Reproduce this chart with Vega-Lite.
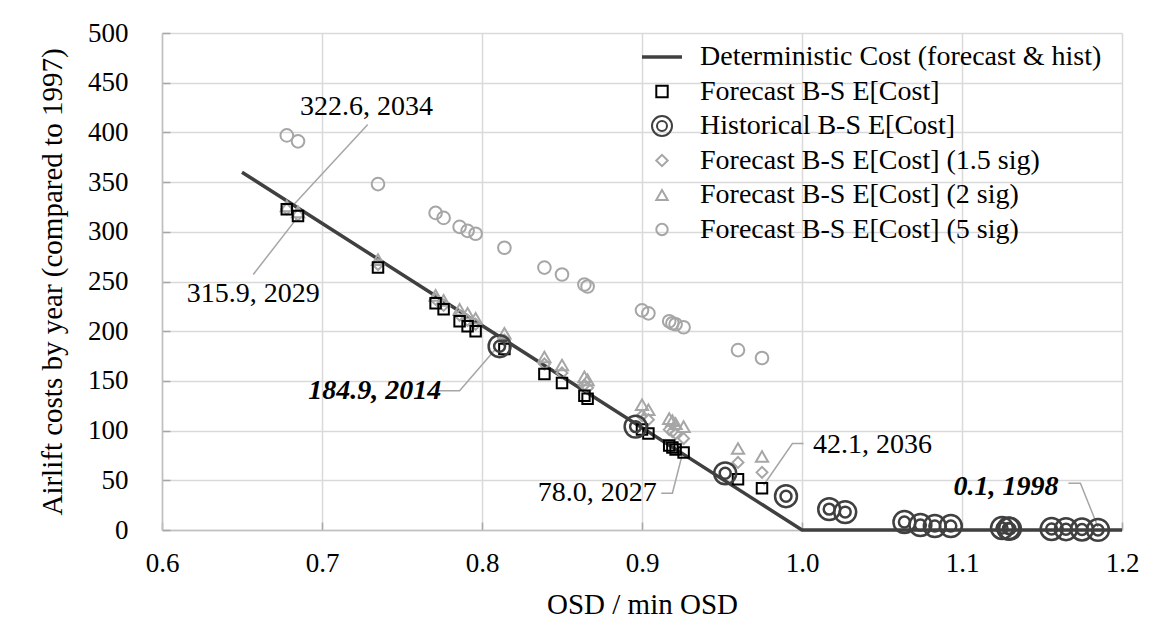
{
  "$schema": "https://vega.github.io/schema/vega-lite/v6.json",
  "width": 960,
  "height": 497,
  "autosize": {"type": "none"},
  "padding": {"left": 162, "top": 33, "right": 31, "bottom": 109},
  "background": "white",
  "config": {
    "font": "Liberation Serif, Times New Roman, DejaVu Serif, serif",
    "view": {"stroke": null},
    "axis": {
      "labelFont": "Liberation Serif, Times New Roman, DejaVu Serif, serif",
      "titleFont": "Liberation Serif, Times New Roman, DejaVu Serif, serif",
      "labelFontSize": 27,
      "titleFontSize": 29,
      "labelColor": "black",
      "titleColor": "black",
      "titleFontWeight": "normal",
      "gridColor": "#d9d9d9",
      "gridWidth": 1.5,
      "domainColor": "#bfbfbf",
      "domainWidth": 1.5,
      "ticks": true,
      "tickSize": -8,
      "tickColor": "#a6a6a6",
      "tickWidth": 1.5
    }
  },
  "datasets": {
    "det": [
      {"series": "Deterministic Cost (forecast & hist)", "x": 0.65, "y": 360},
      {"series": "Deterministic Cost (forecast & hist)", "x": 1.0, "y": 0},
      {"series": "Deterministic Cost (forecast & hist)", "x": 1.2, "y": 0}
    ],
    "pts": [
      {"series": "Forecast B-S E[Cost] (5 sig)", "x": 0.678, "y": 397},
      {"series": "Forecast B-S E[Cost] (5 sig)", "x": 0.685, "y": 391},
      {"series": "Forecast B-S E[Cost] (5 sig)", "x": 0.735, "y": 348},
      {"series": "Forecast B-S E[Cost] (5 sig)", "x": 0.771, "y": 319},
      {"series": "Forecast B-S E[Cost] (5 sig)", "x": 0.776, "y": 314},
      {"series": "Forecast B-S E[Cost] (5 sig)", "x": 0.786, "y": 305},
      {"series": "Forecast B-S E[Cost] (5 sig)", "x": 0.791, "y": 301},
      {"series": "Forecast B-S E[Cost] (5 sig)", "x": 0.796, "y": 298},
      {"series": "Forecast B-S E[Cost] (5 sig)", "x": 0.814, "y": 284},
      {"series": "Forecast B-S E[Cost] (5 sig)", "x": 0.839, "y": 264},
      {"series": "Forecast B-S E[Cost] (5 sig)", "x": 0.85, "y": 257},
      {"series": "Forecast B-S E[Cost] (5 sig)", "x": 0.864, "y": 247},
      {"series": "Forecast B-S E[Cost] (5 sig)", "x": 0.866, "y": 245},
      {"series": "Forecast B-S E[Cost] (5 sig)", "x": 0.9, "y": 221},
      {"series": "Forecast B-S E[Cost] (5 sig)", "x": 0.904, "y": 218},
      {"series": "Forecast B-S E[Cost] (5 sig)", "x": 0.917, "y": 210},
      {"series": "Forecast B-S E[Cost] (5 sig)", "x": 0.919, "y": 208},
      {"series": "Forecast B-S E[Cost] (5 sig)", "x": 0.921, "y": 207},
      {"series": "Forecast B-S E[Cost] (5 sig)", "x": 0.926, "y": 204},
      {"series": "Forecast B-S E[Cost] (5 sig)", "x": 0.96, "y": 181},
      {"series": "Forecast B-S E[Cost] (5 sig)", "x": 0.975, "y": 173},
      {"series": "Forecast B-S E[Cost] (2 sig)", "x": 0.678, "y": 326},
      {"series": "Forecast B-S E[Cost] (2 sig)", "x": 0.685, "y": 320},
      {"series": "Forecast B-S E[Cost] (2 sig)", "x": 0.735, "y": 272},
      {"series": "Forecast B-S E[Cost] (2 sig)", "x": 0.771, "y": 236},
      {"series": "Forecast B-S E[Cost] (2 sig)", "x": 0.776, "y": 231},
      {"series": "Forecast B-S E[Cost] (2 sig)", "x": 0.786, "y": 222},
      {"series": "Forecast B-S E[Cost] (2 sig)", "x": 0.791, "y": 218},
      {"series": "Forecast B-S E[Cost] (2 sig)", "x": 0.796, "y": 213},
      {"series": "Forecast B-S E[Cost] (2 sig)", "x": 0.814, "y": 198},
      {"series": "Forecast B-S E[Cost] (2 sig)", "x": 0.839, "y": 174},
      {"series": "Forecast B-S E[Cost] (2 sig)", "x": 0.85, "y": 166},
      {"series": "Forecast B-S E[Cost] (2 sig)", "x": 0.864, "y": 154},
      {"series": "Forecast B-S E[Cost] (2 sig)", "x": 0.866, "y": 151},
      {"series": "Forecast B-S E[Cost] (2 sig)", "x": 0.9, "y": 126},
      {"series": "Forecast B-S E[Cost] (2 sig)", "x": 0.904, "y": 121},
      {"series": "Forecast B-S E[Cost] (2 sig)", "x": 0.917, "y": 112},
      {"series": "Forecast B-S E[Cost] (2 sig)", "x": 0.919, "y": 110},
      {"series": "Forecast B-S E[Cost] (2 sig)", "x": 0.921, "y": 107},
      {"series": "Forecast B-S E[Cost] (2 sig)", "x": 0.926, "y": 104},
      {"series": "Forecast B-S E[Cost] (2 sig)", "x": 0.96, "y": 82},
      {"series": "Forecast B-S E[Cost] (2 sig)", "x": 0.975, "y": 74},
      {"series": "Forecast B-S E[Cost] (1.5 sig)", "x": 0.678, "y": 323},
      {"series": "Forecast B-S E[Cost] (1.5 sig)", "x": 0.685, "y": 317},
      {"series": "Forecast B-S E[Cost] (1.5 sig)", "x": 0.735, "y": 267},
      {"series": "Forecast B-S E[Cost] (1.5 sig)", "x": 0.771, "y": 232},
      {"series": "Forecast B-S E[Cost] (1.5 sig)", "x": 0.776, "y": 226},
      {"series": "Forecast B-S E[Cost] (1.5 sig)", "x": 0.786, "y": 216},
      {"series": "Forecast B-S E[Cost] (1.5 sig)", "x": 0.791, "y": 211},
      {"series": "Forecast B-S E[Cost] (1.5 sig)", "x": 0.796, "y": 207},
      {"series": "Forecast B-S E[Cost] (1.5 sig)", "x": 0.814, "y": 191},
      {"series": "Forecast B-S E[Cost] (1.5 sig)", "x": 0.839, "y": 167},
      {"series": "Forecast B-S E[Cost] (1.5 sig)", "x": 0.85, "y": 158},
      {"series": "Forecast B-S E[Cost] (1.5 sig)", "x": 0.864, "y": 146},
      {"series": "Forecast B-S E[Cost] (1.5 sig)", "x": 0.866, "y": 143},
      {"series": "Forecast B-S E[Cost] (1.5 sig)", "x": 0.9, "y": 115},
      {"series": "Forecast B-S E[Cost] (1.5 sig)", "x": 0.904, "y": 111},
      {"series": "Forecast B-S E[Cost] (1.5 sig)", "x": 0.917, "y": 101},
      {"series": "Forecast B-S E[Cost] (1.5 sig)", "x": 0.919, "y": 99},
      {"series": "Forecast B-S E[Cost] (1.5 sig)", "x": 0.921, "y": 97},
      {"series": "Forecast B-S E[Cost] (1.5 sig)", "x": 0.926, "y": 92},
      {"series": "Forecast B-S E[Cost] (1.5 sig)", "x": 0.96, "y": 68},
      {"series": "Forecast B-S E[Cost] (1.5 sig)", "x": 0.975, "y": 58},
      {"series": "Forecast B-S E[Cost]", "x": 0.678, "y": 322.6},
      {"series": "Forecast B-S E[Cost]", "x": 0.685, "y": 315.9},
      {"series": "Forecast B-S E[Cost]", "x": 0.735, "y": 264},
      {"series": "Forecast B-S E[Cost]", "x": 0.771, "y": 228},
      {"series": "Forecast B-S E[Cost]", "x": 0.776, "y": 222},
      {"series": "Forecast B-S E[Cost]", "x": 0.786, "y": 210},
      {"series": "Forecast B-S E[Cost]", "x": 0.791, "y": 205},
      {"series": "Forecast B-S E[Cost]", "x": 0.796, "y": 200},
      {"series": "Forecast B-S E[Cost]", "x": 0.814, "y": 182},
      {"series": "Forecast B-S E[Cost]", "x": 0.839, "y": 157},
      {"series": "Forecast B-S E[Cost]", "x": 0.85, "y": 148},
      {"series": "Forecast B-S E[Cost]", "x": 0.864, "y": 135},
      {"series": "Forecast B-S E[Cost]", "x": 0.866, "y": 132},
      {"series": "Forecast B-S E[Cost]", "x": 0.9, "y": 101},
      {"series": "Forecast B-S E[Cost]", "x": 0.904, "y": 97},
      {"series": "Forecast B-S E[Cost]", "x": 0.917, "y": 85},
      {"series": "Forecast B-S E[Cost]", "x": 0.919, "y": 83},
      {"series": "Forecast B-S E[Cost]", "x": 0.921, "y": 81},
      {"series": "Forecast B-S E[Cost]", "x": 0.926, "y": 78.0},
      {"series": "Forecast B-S E[Cost]", "x": 0.96, "y": 51},
      {"series": "Forecast B-S E[Cost]", "x": 0.975, "y": 42.1},
      {"series": "Historical B-S E[Cost]", "x": 0.811, "y": 184.9},
      {"series": "Historical B-S E[Cost]", "x": 0.896, "y": 104},
      {"series": "Historical B-S E[Cost]", "x": 0.952, "y": 57},
      {"series": "Historical B-S E[Cost]", "x": 0.99, "y": 34},
      {"series": "Historical B-S E[Cost]", "x": 1.017, "y": 21},
      {"series": "Historical B-S E[Cost]", "x": 1.027, "y": 18},
      {"series": "Historical B-S E[Cost]", "x": 1.064, "y": 8},
      {"series": "Historical B-S E[Cost]", "x": 1.074, "y": 5},
      {"series": "Historical B-S E[Cost]", "x": 1.083, "y": 4},
      {"series": "Historical B-S E[Cost]", "x": 1.093, "y": 4},
      {"series": "Historical B-S E[Cost]", "x": 1.125, "y": 2},
      {"series": "Historical B-S E[Cost]", "x": 1.129, "y": 1.5},
      {"series": "Historical B-S E[Cost]", "x": 1.13, "y": 1.2},
      {"series": "Historical B-S E[Cost]", "x": 1.156, "y": 1},
      {"series": "Historical B-S E[Cost]", "x": 1.165, "y": 0.8},
      {"series": "Historical B-S E[Cost]", "x": 1.175, "y": 0.5},
      {"series": "Historical B-S E[Cost]", "x": 1.185, "y": 0.1}
    ],
    "leaders": [
      {"id": "a", "ord": 1, "x": 0.7286, "y": 408},
      {"id": "a", "ord": 2, "x": 0.681, "y": 325},
      {"id": "b", "ord": 1, "x": 0.657, "y": 257},
      {"id": "b", "ord": 2, "x": 0.684, "y": 313},
      {"id": "c", "ord": 1, "x": 0.771, "y": 140},
      {"id": "c", "ord": 2, "x": 0.786, "y": 140},
      {"id": "c", "ord": 3, "x": 0.808, "y": 181},
      {"id": "d", "ord": 1, "x": 0.912, "y": 37},
      {"id": "d", "ord": 2, "x": 0.919, "y": 37},
      {"id": "d", "ord": 3, "x": 0.925, "y": 75},
      {"id": "e", "ord": 1, "x": 1.001, "y": 87},
      {"id": "e", "ord": 2, "x": 0.994, "y": 87},
      {"id": "e", "ord": 3, "x": 0.976, "y": 45},
      {"id": "f", "ord": 1, "x": 1.1665, "y": 47},
      {"id": "f", "ord": 2, "x": 1.174, "y": 47},
      {"id": "f", "ord": 3, "x": 1.185, "y": 3}
    ],
    "labels": [
      {"t": "322.6, 2034", "x": 0.7278, "y": 426},
      {"t": "315.9, 2029", "x": 0.657, "y": 237},
      {"t": "78.0, 2027", "x": 0.872, "y": 37},
      {"t": "42.1, 2036", "x": 1.044, "y": 85.5}
    ],
    "boldlabels": [
      {"t": "184.9, 2014", "x": 0.733, "y": 140},
      {"t": "0.1, 1998", "x": 1.1275, "y": 43.6}
    ]
  },
  "layer": [
    {
      "data": {"name": "leaders"},
      "mark": {"type": "line", "stroke": "#a6a6a6", "strokeWidth": 1.5},
      "encoding": {
        "x": {"field": "x", "type": "quantitative", "scale": {"domain": [0.6, 1.2], "nice": false, "zero": false},
          "axis": {"values": [0.6, 0.7, 0.8, 0.9, 1.0, 1.1, 1.2], "format": ".1f", "labelFlush": false, "labelOverlap": false, "labelPadding": 28, "titlePadding": 14, "title": "OSD / min OSD"}},
        "y": {"field": "y", "type": "quantitative", "scale": {"domain": [0, 500], "nice": false},
          "axis": {"values": [0, 50, 100, 150, 200, 250, 300, 350, 400, 450, 500], "labelPadding": 42, "titlePadding": 20, "title": "Airlift costs by year (compared to 1997)"}},
        "detail": {"field": "id"},
        "order": {"field": "ord", "type": "quantitative"}
      }
    },
    {
      "data": {"name": "det"},
      "mark": {"type": "line", "strokeWidth": 3.5},
      "encoding": {
        "x": {"field": "x", "type": "quantitative"},
        "y": {"field": "y", "type": "quantitative"},
        "color": {"field": "series", "type": "nominal",
          "scale": {"domain": ["Deterministic Cost (forecast & hist)", "Forecast B-S E[Cost]", "Historical B-S E[Cost]", "Forecast B-S E[Cost] (1.5 sig)", "Forecast B-S E[Cost] (2 sig)", "Forecast B-S E[Cost] (5 sig)"],
            "range": ["#404040", "#000000", "#404040", "#a6a6a6", "#a6a6a6", "#a6a6a6"]},
          "legend": {"orient": "none", "legendX": 486, "legendY": 10, "title": null, "labelFontSize": 28, "labelFont": "Liberation Serif, Times New Roman, DejaVu Serif, serif", "labelColor": "black", "labelLimit": 700, "symbolSize": 130, "symbolStrokeWidth": 2, "labelOffset": 24, "rowPadding": 6.5,
            "encode": {"symbols": {"update": {
              "size": {"signal": "datum.value === 'Deterministic Cost (forecast & hist)' ? 1600 : datum.value === 'Historical B-S E[Cost]' ? 400 : 130"},
              "strokeWidth": {"signal": "datum.value === 'Deterministic Cost (forecast & hist)' ? 3.5 : 2"}}}}}}
      }
    },
    {
      "data": {"name": "pts"},
      "transform": [{"filter": "datum.series === 'Forecast B-S E[Cost] (5 sig)'"}],
      "mark": {"type": "point", "filled": false, "size": 160, "strokeWidth": 2, "opacity": 1},
      "encoding": {
        "x": {"field": "x", "type": "quantitative"},
        "y": {"field": "y", "type": "quantitative"},
        "color": {"field": "series", "type": "nominal"},
        "shape": {"field": "series", "type": "nominal",
          "scale": {"domain": ["Deterministic Cost (forecast & hist)", "Forecast B-S E[Cost]", "Historical B-S E[Cost]", "Forecast B-S E[Cost] (1.5 sig)", "Forecast B-S E[Cost] (2 sig)", "Forecast B-S E[Cost] (5 sig)"],
            "range": ["stroke", "square", "M -1 0 A 1 1 0 1 0 1 0 A 1 1 0 1 0 -1 0 M -0.5 0 A 0.5 0.5 0 1 0 0.5 0 A 0.5 0.5 0 1 0 -0.5 0", "diamond", "triangle-up", "circle"]}}
      }
    },
    {
      "data": {"name": "pts"},
      "transform": [{"filter": "datum.series === 'Forecast B-S E[Cost] (2 sig)'"}],
      "mark": {"type": "point", "filled": false, "size": 150, "strokeWidth": 2, "opacity": 1},
      "encoding": {
        "x": {"field": "x", "type": "quantitative"},
        "y": {"field": "y", "type": "quantitative"},
        "color": {"field": "series", "type": "nominal"},
        "shape": {"field": "series", "type": "nominal"}
      }
    },
    {
      "data": {"name": "pts"},
      "transform": [{"filter": "datum.series === 'Forecast B-S E[Cost] (1.5 sig)'"}],
      "mark": {"type": "point", "filled": false, "size": 120, "strokeWidth": 2, "opacity": 1},
      "encoding": {
        "x": {"field": "x", "type": "quantitative"},
        "y": {"field": "y", "type": "quantitative"},
        "color": {"field": "series", "type": "nominal"},
        "shape": {"field": "series", "type": "nominal"}
      }
    },
    {
      "data": {"name": "pts"},
      "transform": [{"filter": "datum.series === 'Forecast B-S E[Cost]'"}],
      "mark": {"type": "point", "filled": false, "size": 110, "strokeWidth": 2, "opacity": 1},
      "encoding": {
        "x": {"field": "x", "type": "quantitative"},
        "y": {"field": "y", "type": "quantitative"},
        "color": {"field": "series", "type": "nominal"},
        "shape": {"field": "series", "type": "nominal"}
      }
    },
    {
      "data": {"name": "pts"},
      "transform": [{"filter": "datum.series === 'Historical B-S E[Cost]'"}],
      "mark": {"type": "point", "filled": false, "size": 480, "strokeWidth": 2.5, "opacity": 1},
      "encoding": {
        "x": {"field": "x", "type": "quantitative"},
        "y": {"field": "y", "type": "quantitative"},
        "color": {"field": "series", "type": "nominal"},
        "shape": {"field": "series", "type": "nominal"}
      }
    },
    {
      "data": {"name": "labels"},
      "mark": {"type": "text", "fontSize": 28, "font": "Liberation Serif, Times New Roman, DejaVu Serif, serif", "align": "center", "baseline": "middle", "color": "black"},
      "encoding": {
        "x": {"field": "x", "type": "quantitative"},
        "y": {"field": "y", "type": "quantitative"},
        "text": {"field": "t"}
      }
    },
    {
      "data": {"name": "boldlabels"},
      "mark": {"type": "text", "fontSize": 28, "font": "Liberation Serif, Times New Roman, DejaVu Serif, serif", "fontWeight": "bold", "fontStyle": "italic", "align": "center", "baseline": "middle", "color": "black"},
      "encoding": {
        "x": {"field": "x", "type": "quantitative"},
        "y": {"field": "y", "type": "quantitative"},
        "text": {"field": "t"}
      }
    }
  ]
}
